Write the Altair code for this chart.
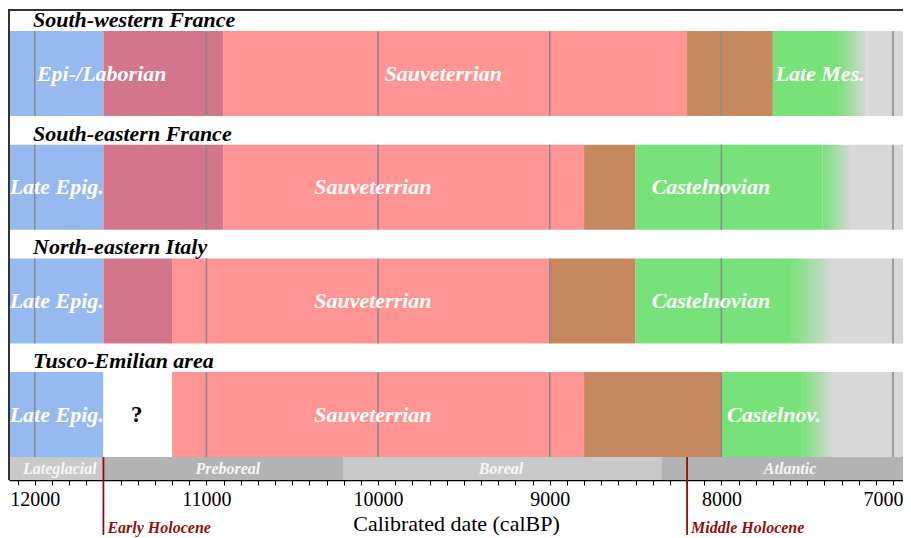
import altair as alt
import pandas as pd

# ---------------- data ----------------
regions = ["South-western France", "South-eastern France",
           "North-eastern Italy", "Tusco-Emilian area"]

X_MIN, X_MAX = 12150, 6942

seg_region = [0] * 6 + [1] * 6 + [2] * 6 + [3] * 6
seg_start = [12150, 11600, 10900, 8200, 7700, 7150,
             12150, 11600, 10900, 8800, 8500, 7240,
             12150, 11600, 11200, 9000, 8500, 7350,
             12150, 11600, 11200, 8800, 8000, 7350]
seg_end = [11600, 10900, 8200, 7700, 7320, 6942,
           11600, 10900, 8800, 8500, 7410, 6942,
           11600, 11200, 9000, 8500, 7600, 6942,
           11600, 11200, 8800, 8000, 7530, 6942]
seg_kind = ["epig", "trans", "sauv", "meso", "cast", "later",
            "epig", "trans", "sauv", "meso", "cast", "later",
            "epig", "trans", "sauv", "meso", "cast", "later",
            "epig", "none", "sauv", "meso", "cast", "later"]

# fading end of the Late Mesolithic / Castelnovian
fade_region = [0, 1, 2, 3]
fade_start = [7320, 7410, 7600, 7530]
fade_end = [7150, 7240, 7350, 7350]

lab_region = [0, 0, 0, 1, 1, 1, 2, 2, 2, 3, 3, 3]
lab_text = ["Epi-/Laborian", "Sauveterrian", "Late Mes.",
            "Late Epig.", "Sauveterrian", "Castelnovian",
            "Late Epig.", "Sauveterrian", "Castelnovian",
            "Late Epig.", "Sauveterrian", "Castelnov."]
lab_year = [11610, 9620, 7425,
            11872, 10030, 8061,
            11872, 10030, 8061,
            11872, 10030, 7694]

unknown_region = [3]
unknown_year = [11406]
unknown_text = ["?"]

clim_names = ["Lateglacial", "Preboreal", "Boreal", "Atlantic"]
clim_start = [12150, 11600, 10200, 8350]
clim_end = [11600, 10200, 8350, 6942]
clim_label_year = [11854, 10875, 9284, 7600]
clim_shade = ["light", "dark", "light", "dark"]

event_names = ["Early Holocene", "Middle Holocene"]
event_year = [11600, 8200]

grid_years = [12000, 11000, 10000, 9000, 8000, 7000]
minor_ticks = list(range(12100, 6900, -100))

# ---------------- layout / style ----------------
W, H = 894, 471
FIRST, STEP, BAND = 22, 113.7, 85
CLIM_TOP = FIRST + 3 * STEP + BAND
FONT = "Liberation Serif"

BLUE, MIX, PINK, BROWN = "#96b9f0", "#d3768c", "#ff9494", "#c6895f"
GREEN, GREY = "#78e27a", "#d8d8d8"
RED = "#8b1111"


def top(r):
    return FIRST + r * STEP


segs = pd.DataFrame({"start": seg_start, "end": seg_end, "kind": seg_kind,
                     "top": [top(r) for r in seg_region],
                     "bot": [top(r) + BAND for r in seg_region]})
fades = pd.DataFrame({"start": fade_start, "end": fade_end,
                      "top": [top(r) for r in fade_region],
                      "bot": [top(r) + BAND for r in fade_region]})
grid = pd.DataFrame([{"year": g, "top": top(r), "bot": top(r) + BAND}
                     for r in range(len(regions)) for g in grid_years])
labels = pd.DataFrame({"year": lab_year, "text": lab_text,
                       "yc": [top(r) + BAND / 2 for r in lab_region]})
unknown = pd.DataFrame({"year": unknown_year, "text": unknown_text,
                        "yc": [top(r) + BAND / 2 for r in unknown_region]})
titles = pd.DataFrame({"text": regions,
                       "yc": [top(r) - 11 for r in range(len(regions))]})
clim = pd.DataFrame({"start": clim_start, "end": clim_end, "name": clim_names,
                     "shade": clim_shade, "lab": clim_label_year,
                     "top": CLIM_TOP, "bot": H})
events = pd.DataFrame({"year": event_year, "name": event_names})

xscale = alt.Scale(domain=[X_MIN, X_MAX], nice=False, zero=False)
xaxis = alt.Axis(values=minor_ticks, format="d",
                 labelExpr="datum.value % 1000 === 0 ? datum.label : ''",
                 labelOverlap=False, labelFlush=False, grid=False,
                 labelAlign=alt.condition("datum.value === 7000",
                                          alt.value("right"), alt.value("center")),
                 labelOffset=alt.condition("datum.value === 7000",
                                           alt.value(10), alt.value(0)),
                 tickSize=5, tickColor="black", tickWidth=1,
                 domainColor="black", domainWidth=1.5,
                 labelFont=FONT, labelFontSize=20, labelColor="black",
                 labelPadding=4,
                 title="Calibrated date (calBP)", titleFont=FONT,
                 titleFontSize=22, titleFontWeight="normal",
                 titleColor="black", titlePadding=4)
yscale = alt.Scale(domain=[H, 0], nice=False, zero=False)


def X(f):
    return alt.X(f, type="quantitative", scale=xscale, axis=xaxis)


def Y(f):
    return alt.Y(f, type="quantitative", scale=yscale, axis=None)


kind_scale = alt.Scale(domain=["epig", "trans", "sauv", "meso", "cast", "later", "none"],
                       range=[BLUE, MIX, PINK, BROWN, GREEN, GREY, "#ffffff"])

bands = alt.Chart(segs).mark_rect().encode(
    x=X("start"), x2="end", y=Y("top"), y2="bot",
    fill=alt.Fill("kind:N", scale=kind_scale, legend=None))

fade = alt.Chart(fades).mark_rect(
    fill=alt.LinearGradient(gradient="linear",
                            stops=[alt.GradientStop(color=GREEN, offset=0),
                                   alt.GradientStop(color=GREY, offset=1)],
                            x1=0, x2=1, y1=0, y2=0)
).encode(x=X("start"), x2="end", y=Y("top"), y2="bot")

gridlines = alt.Chart(grid).mark_rule(color="#8a8a8a", strokeWidth=1.5).encode(
    x=X("year"), y=Y("top"), y2="bot")

band_text = alt.Chart(labels).mark_text(
    font=FONT, fontSize=22, fontStyle="italic", fontWeight="bold",
    color="white", baseline="middle", align="center").encode(
    x=X("year"), y=Y("yc"), text="text:N")

q_text = alt.Chart(unknown).mark_text(
    font=FONT, fontSize=23, fontWeight="bold", color="black",
    baseline="middle", align="center").encode(
    x=X("year"), y=Y("yc"), text="text:N")

title_text = alt.Chart(titles).mark_text(
    font=FONT, fontSize=22, fontStyle="italic", fontWeight="bold",
    color="black", baseline="middle", align="left").encode(
    x=alt.value(24), y=Y("yc"), text="text:N")

clim_rect = alt.Chart(clim).mark_rect().encode(
    x=X("start"), x2="end", y=Y("top"), y2="bot",
    fill=alt.Fill("shade:N", scale=alt.Scale(domain=["light", "dark"],
                                             range=["#c9c9c9", "#b3b3b3"]),
                  legend=None))

clim_text = alt.Chart(clim).mark_text(
    font=FONT, fontSize=16, fontStyle="italic", fontWeight="bold",
    color="#f6f6f6", baseline="middle", align="center").encode(
    x=X("lab"), y=alt.value((CLIM_TOP + H) / 2), text="name:N")

event_rule = alt.Chart(events).mark_rule(color=RED, strokeWidth=1.8).encode(
    x=X("year"), y=alt.value(CLIM_TOP), y2=alt.value(H + 55))

event_text = alt.Chart(events).mark_text(
    font=FONT, fontSize=16, fontStyle="italic", fontWeight="bold",
    color=RED, baseline="middle", align="left", dx=4).encode(
    x=X("year"), y=alt.value(H + 48), text="name:N")

frame_top = alt.Chart(events).mark_rule(color="#333333", strokeWidth=2).encode(
    x=alt.value(0), x2=alt.value(W), y=alt.value(1))
frame_left = alt.Chart(events).mark_rule(color="#333333", strokeWidth=2).encode(
    x=alt.value(0), y=alt.value(0), y2=alt.value(H))

chart = alt.layer(
    bands, fade, gridlines, band_text, q_text, title_text,
    clim_rect, clim_text, event_rule, event_text, frame_top, frame_left
).resolve_scale(fill="independent").properties(
    width=W, height=H,
    autosize=alt.AutoSizeParams(type="none"),
    padding={"left": 1, "top": 1, "right": 0, "bottom": 58},
    background="white"
).configure_view(stroke=None)

chart.save("out.html", embed_options={"renderer": "svg", "actions": False})
